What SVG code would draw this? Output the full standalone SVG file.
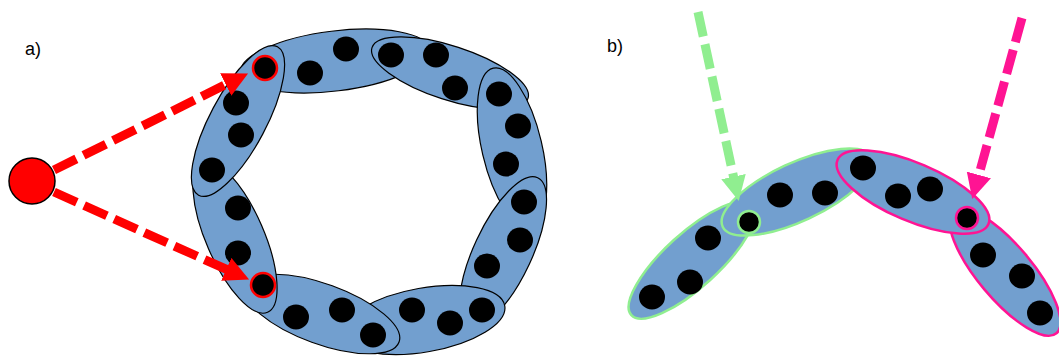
<svg xmlns="http://www.w3.org/2000/svg" width="1059" height="358" viewBox="0 0 1059 358">
<style>
.seg{fill:#729fcf;stroke:#000;stroke-width:1.2}
.gseg{fill:#729fcf;stroke:#90ee90;stroke-width:2.5}
.pseg{fill:#729fcf;stroke:#ff1493;stroke-width:2.5}
.dot{fill:#000}
.rdot{fill:#000;stroke:#f00;stroke-width:2.5}
.gdot{fill:#000;stroke:#90ee90;stroke-width:2.5}
.pdot{fill:#000;stroke:#ff1493;stroke-width:2.5}
.lbl{font-family:"Liberation Sans",Arial,sans-serif;font-size:18px;fill:#000}
.arr{fill:none;stroke-width:9;stroke-dasharray:25 8}
</style>
<defs>
<marker id="ahR" markerUnits="userSpaceOnUse" markerWidth="27" markerHeight="26" refX="1" refY="12.5" orient="auto"><path d="M0,0 L25,12.5 L0,25 z" fill="#f00"/></marker>
<marker id="ahG" markerUnits="userSpaceOnUse" markerWidth="27" markerHeight="26" refX="1" refY="12.5" orient="auto"><path d="M0,0 L25,12.5 L0,25 z" fill="#90ee90"/></marker>
<marker id="ahP" markerUnits="userSpaceOnUse" markerWidth="27" markerHeight="26" refX="1" refY="12.5" orient="auto"><path d="M0,0 L25,12.5 L0,25 z" fill="#ff1493"/></marker>
</defs>
<rect width="1059" height="358" fill="#fff"/>
<text class="lbl" x="25" y="55">a)</text>
<text class="lbl" x="607" y="52">b)</text>

<!-- ring a) -->
<g id="seg2"><ellipse class="seg" cx="335" cy="61" rx="95" ry="30" transform="rotate(-7 335 61)"/>
<ellipse class="dot" cx="310" cy="73" rx="13" ry="12.5"/><ellipse class="dot" cx="346" cy="49" rx="13" ry="12.5"/></g>
<g id="seg3"><ellipse class="seg" cx="450" cy="73" rx="82" ry="27" transform="rotate(18 450 73)"/>
<ellipse class="dot" cx="391" cy="55" rx="13" ry="12.5"/><ellipse class="dot" cx="436" cy="55" rx="13" ry="12.5"/><ellipse class="dot" cx="455" cy="88" rx="13" ry="12.5"/></g>
<g id="seg4"><ellipse class="seg" cx="512" cy="148" rx="82" ry="30" transform="rotate(76.8 512 148)"/>
<ellipse class="dot" cx="499" cy="94" rx="13" ry="12.5"/><ellipse class="dot" cx="518" cy="126" rx="13" ry="12.5"/><ellipse class="dot" cx="506" cy="164" rx="13" ry="12.5"/></g>
<g id="seg5"><ellipse class="seg" cx="503" cy="252" rx="82" ry="29" transform="rotate(115 503 252)"/>
<ellipse class="dot" cx="524" cy="202" rx="13" ry="12.5"/><ellipse class="dot" cx="520" cy="240" rx="13" ry="12.5"/><ellipse class="dot" cx="487" cy="266" rx="13" ry="12.5"/></g>
<g id="seg6"><ellipse class="seg" cx="424" cy="320" rx="82" ry="32" transform="rotate(-10 424 320)"/>
<ellipse class="dot" cx="412" cy="310" rx="13" ry="12.5"/><ellipse class="dot" cx="450" cy="323" rx="13" ry="12.5"/><ellipse class="dot" cx="482" cy="310" rx="13" ry="12.5"/></g>
<g id="seg7"><ellipse class="seg" cx="322" cy="314" rx="82" ry="30" transform="rotate(20 322 314)"/>
<ellipse class="dot" cx="296" cy="317" rx="13" ry="12.5"/><ellipse class="dot" cx="342" cy="310" rx="13" ry="12.5"/><ellipse class="dot" cx="373" cy="335" rx="13" ry="12.5"/></g>
<g id="seg8"><ellipse class="seg" cx="235" cy="237" rx="82" ry="29" transform="rotate(66.6 235 237)"/>
<ellipse class="dot" cx="238" cy="208" rx="13" ry="12.5"/><ellipse class="dot" cx="238" cy="253" rx="13" ry="12.5"/><circle class="rdot" cx="263" cy="285" r="12"/></g>
<g id="seg1"><ellipse class="seg" cx="238" cy="121" rx="84" ry="28" transform="rotate(-62 238 121)"/>
<circle class="rdot" cx="265" cy="68" r="12"/><ellipse class="dot" cx="236" cy="103" rx="13" ry="12.5"/><ellipse class="dot" cx="241" cy="135" rx="13" ry="12.5"/><ellipse class="dot" cx="212" cy="170" rx="13" ry="12.5"/></g>
<g id="source"><circle cx="32" cy="181" r="23" fill="#f00" stroke="#000" stroke-width="1.5"/></g>

<!-- b) -->
<g id="b1"><ellipse class="gseg" cx="692" cy="260" rx="82" ry="27" transform="rotate(-42.3 692 260)"/>
<ellipse class="dot" cx="652" cy="297" rx="13" ry="12.5"/><ellipse class="dot" cx="690" cy="282" rx="13" ry="12.5"/><ellipse class="dot" cx="708" cy="238" rx="13" ry="12.5"/></g>
<g id="b2"><ellipse class="gseg" cx="797" cy="192" rx="82" ry="29" transform="rotate(-25 797 192)"/>
<circle class="gdot" cx="749" cy="222" r="11"/><ellipse class="dot" cx="780" cy="195" rx="13" ry="12.5"/><ellipse class="dot" cx="825" cy="193" rx="13" ry="12.5"/></g>
<g id="b4"><ellipse class="pseg" cx="1005" cy="272" rx="80" ry="27" transform="rotate(50 1005 272)"/>
<ellipse class="dot" cx="983" cy="255" rx="13" ry="12.5"/><ellipse class="dot" cx="1022" cy="276" rx="13" ry="12.5"/><ellipse class="dot" cx="1040" cy="313" rx="13" ry="12.5"/></g>
<g id="b3"><ellipse class="pseg" cx="913" cy="192" rx="82" ry="29" transform="rotate(23 913 192)"/>
<ellipse class="dot" cx="863" cy="168" rx="13" ry="12.5"/><ellipse class="dot" cx="898" cy="196" rx="13" ry="12.5"/><ellipse class="dot" cx="930" cy="189" rx="13" ry="12.5"/><circle class="pdot" cx="967" cy="218" r="11"/></g>

<g id="connectors">
<line class="arr" x1="54" y1="170" x2="226.6" y2="84.1" stroke="#f00" stroke-width="10" marker-end="url(#ahR)"/>
<line class="arr" x1="54" y1="192" x2="227.2" y2="269.7" stroke="#f00" stroke-width="10" marker-end="url(#ahR)"/>
<line class="arr" x1="698" y1="12" x2="733.7" y2="177.6" stroke="#90ee90" stroke-width="8.5" marker-end="url(#ahG)"/>
<line class="arr" x1="1022" y1="18" x2="978.6" y2="175.9" stroke="#ff1493" stroke-width="8.5" marker-end="url(#ahP)"/>
</g>
</svg>
